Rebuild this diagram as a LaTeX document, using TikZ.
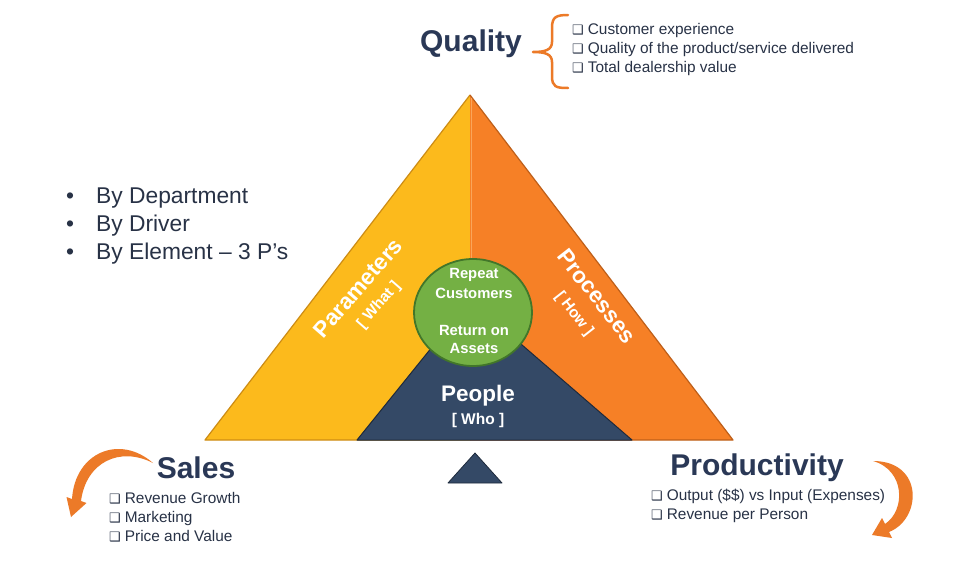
\documentclass[tikz,border=0pt]{standalone}
\usepackage{fontspec}
\setmainfont{Liberation Sans}
\newfontfamily\dv{DejaVu Sans}
\usetikzlibrary{positioning}
\definecolor{yel}{RGB}{252,186,28}
\definecolor{yeledge}{RGB}{205,140,20}
\definecolor{org}{RGB}{246,128,38}
\definecolor{orgedge}{RGB}{190,95,25}
\definecolor{orghi}{RGB}{250,165,90}
\definecolor{navy}{RGB}{52,73,102}
\definecolor{navyedge}{RGB}{30,42,60}
\definecolor{grn}{RGB}{116,176,68}
\definecolor{grnedge}{RGB}{66,118,42}
\definecolor{ttl}{RGB}{42,56,86}
\definecolor{txt}{RGB}{40,50,70}
\definecolor{arr}{RGB}{236,122,40}
\newcommand{\bx}{{\dv\fontsize{13}{13}\selectfont ❑}\hspace{4pt}}
\tikzset{
  title/.style={font=\fontsize{30}{32}\selectfont\bfseries, text=ttl, inner sep=0pt},
  checklist/.style={font=\fontsize{15.4}{18.6}\selectfont, text=txt, align=left, anchor=north west, inner sep=0pt},
  wlabel/.style={font=\fontsize{#1}{#1}\selectfont\bfseries, text=white, inner sep=0pt},
  arrowfill/.style={fill=arr},
}
\begin{document}
\begin{tikzpicture}[x=1pt,y=-1pt]
\useasboundingbox[fill=white] (0,0) rectangle (962,562);
% main triangle
\coordinate (apex) at (470,95);
\coordinate (bl) at (205,440);
\coordinate (br) at (733,440);
\coordinate (bm) at (470,440);
\fill[yel] (apex) -- (bl) -- (bm) -- cycle;
\fill[org] (apex) -- (bm) -- (br) -- cycle;
\draw[yeledge, line width=1.2pt, line join=round] (bm) -- (bl) -- (apex);
\draw[orgedge, line width=1.2pt, line join=round] (apex) -- (br) -- (bm);
\draw[orghi, line width=1.6pt] (471.5,98) -- (471.5,270);
% people triangle
\coordinate (pl) at (357,440);
\coordinate (pr) at (632,440);
\coordinate (pa) at (470,300);
\fill[navy] (pl) -- (pa) -- (pr) -- cycle;
\draw[navyedge, line width=1pt, line join=round] (pl) -- (pa) -- (pr) -- cycle;
% circle
\fill[grn] (473,312.5) ellipse [x radius=59, y radius=53.5];
\draw[grnedge, line width=1.8pt] (473,312.5) ellipse [x radius=59, y radius=53.5];
% small triangle
\fill[navy] (475,453) -- (448,483) -- (502,483) -- cycle;
\draw[navyedge, line width=0.8pt, line join=round] (475,453) -- (448,483) -- (502,483) -- cycle;
% circle text
\node[wlabel=14.8] (rep) at (474,275) {Repeat};
\node[wlabel=14.8] (cus) at (474,293) {Customers};
\node[wlabel=14.8] (ret) at (474,330) {Return on};
\node[wlabel=14.8] (ass) at (474,348) {Assets};
% people
\node[wlabel=22.5] (peo) at (478,396) {People};
\node[wlabel=15.5] (who) at (478,420) {[ Who ]};
% side labels
\node[wlabel=22.5, rotate=49] (par) at (358,288) {Parameters};
\node[wlabel=15.5, rotate=49] (wha) at (379,305) {[ What ]};
\node[wlabel=22.5, rotate=-52] (pro) at (597,296) {Processes};
\node[wlabel=15.5, rotate=-52] (how) at (574,314) {[ How ]};
% titles
\node[title] (qual) at (471,44) {Quality};
\node[title] (sales) at (196,468) {Sales};
\node[title] (prod) at (757,468) {Productivity};
% quality brace
\coordinate (bt) at (568,15);
\coordinate (bb) at (568,88);
\coordinate (bmid) at (533,52);
\draw[arr, line width=2.5pt, line cap=round, line join=round]
  (bt) .. controls (556,15) and (552,17) .. (552,28) -- (552,42)
  .. controls (552,50) and (545,52) .. (bmid)
  .. controls (545,52) and (552,54) .. (552,62) -- (552,76)
  .. controls (552,87) and (556,88) .. (bb);
% lists
\node[checklist] (qlist) at (572,23.5) {\bx Customer experience\\\bx Quality of the product/service delivered\\\bx Total dealership value};
\node[checklist] (slist) at (109,492.5) {\bx Revenue Growth\\\bx Marketing\\\bx Price and Value};
\node[checklist] (plist) at (651,489) {\bx Output (\$\$) vs Input (Expenses)\\\bx Revenue per Person};
\node[font=\fontsize{22.8}{28}\selectfont, text=txt, align=left, anchor=north west, inner sep=0pt] (blist) at (66,188)
  {\makebox[30pt][l]{•}By Department\\\makebox[30pt][l]{•}By Driver\\\makebox[30pt][l]{•}By Element – 3 P’s};
% sales arrow
\fill[arrowfill] (153,463) .. controls (120,434) and (75,452) .. (72,499)
  -- (66.5,497) -- (71,517) -- (86.5,503) -- (81,501)
  .. controls (86,462) and (120,446) .. (153,463) -- cycle;
% productivity arrow
\fill[arrowfill] (873,461) .. controls (924,461) and (922,519) .. (889,532)
  -- (892,538) -- (872,535) -- (882,518) -- (885,524)
  .. controls (906,510) and (905,470) .. (873,461) -- cycle;
\end{tikzpicture}
\end{document}
